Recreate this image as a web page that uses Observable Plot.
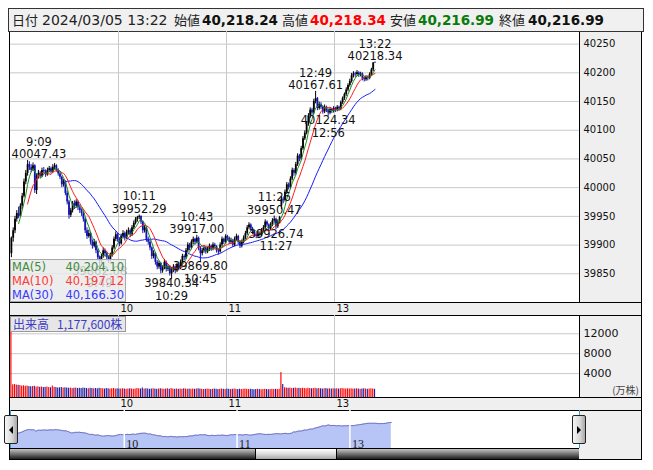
<!DOCTYPE html>
<html><head><meta charset="utf-8">
<script src="https://cdn.jsdelivr.net/npm/d3@7"></script>
<script src="https://cdn.jsdelivr.net/npm/@observablehq/plot@0.6"></script>
<style>
html,body{margin:0;padding:0;background:#fff;}
#root{position:relative;width:653px;height:470px;overflow:hidden;font-family:"DejaVu Sans",sans-serif;}
.a{position:absolute;box-sizing:border-box;}
.hj{font-family:"Noto Sans CJK JP",sans-serif;font-size:13px;color:#222;line-height:16px;top:12px;white-space:nowrap;}
.hn{font-family:"DejaVu Sans",sans-serif;font-size:14px;color:#222;line-height:16px;top:12px;white-space:nowrap;}
.hb{font-family:"DejaVu Sans",sans-serif;font-weight:bold;font-size:13.5px;color:#111;line-height:16px;top:12px;white-space:nowrap;}
.svgp{position:absolute;}
</style></head><body><div id="root"></div>
<script>
// ---------------- data ----------------
const headerDate = "2024/03/05 13:22";
const headerLabels = ["始値", "高値", "安値", "終値"];
const headerValues = ["40,218.24", "40,218.34", "40,216.99", "40,216.99"];

const opens = [39885,39912,39925,39945,39955,39950,39968,39985,40010,40025,
40040,40035,40030,40038,39995,40020,40025,40020,40030,40028,
40022,40030,40033,40027,40035,40038,40030,40024,40018,40005,
40010,39990,39975,39952,39960,39972,39968,39975,39965,39960,
39955,39945,39925,39915,39920,39905,39898,39905,39890,39878,
39872,39880,39890,39885,39878,39875,39882,39895,39910,39918,
39910,39902,39915,39920,39912,39922,39925,39918,39930,39938,
39945,39948,39950,39940,39925,39930,39910,39905,39895,39880,
39885,39870,39862,39868,39855,39860,39870,39858,39862,39850,
39858,39862,39855,39865,39860,39870,39880,39878,39890,39900,
39895,39905,39910,39905,39912,39895,39885,39890,39895,39888,
39892,39898,39893,39900,39897,39890,39888,39900,39910,39905,
39915,39912,39905,39908,39900,39910,39915,39905,39898,39905,
39912,39920,39930,39935,39928,39922,39918,39915,39920,39918,
39925,39930,39940,39935,39928,39935,39942,39945,39932,39940,
39968,39980,39978,39992,40005,40000,40015,40030,40025,40040,
40055,40050,40068,40085,40095,40110,40125,40135,40130,40150,
40155,40138,40145,40140,40132,40140,40135,40130,40136,40133,
40138,40135,40140,40137,40148,40155,40162,40170,40178,40185,
40195,40198,40197,40200,40196,40198,40190,40188,40192,40190,
40197,40205,40218.24];
const highs = [39914,39930,39950,39960,39966,39972,39990,40015,40030,40047.43,
40045,40040,40043,40040,40024,40030,40028,40034,40035,40031,
40034,40037,40036,40040,40042,40040,40033,40028,40020,40014,
40012,39994,39978,39964,39976,39977,39979,39977,39970,39963,
39958,39947,39930,39926,39922,39909,39910,39907,39893,39881,
39884,39895,39893,39888,39881,39886,39899,39914,39923,39920,
39913,39919,39925,39923,39926,39930,39928,39934,39942,39948,
39950,39952.29,39951,39942,39934,39932,39914,39908,39897,39890,
39887,39873,39872,39870,39864,39875,39872,39866,39864,39861,
39866,39864,39869,39867,39874,39884,39883,39894,39904,39903,
39909,39914,39912,39917.00,39914,39897,39894,39899,39897,39896,
39902,39900,39904,39903,39899,39893,39904,39914,39912,39918,
39917,39914,39912,39910,39914,39919,39917,39907,39909,39916,
39924,39934,39939,39937,39931,39925,39921,39924,39923,39929,
39934,39944,39942,39937,39939,39946,39950.47,39947,39944,39950,
39985,39984,39996,40009,40008,40019,40034,40033,40044,40059,
40058,40072,40089,40099,40114,40129,40139,40138,40154,40167.61,
40157,40149,40148,40142,40144,40142,40137,40139,40138,40141,
40140,40143,40142,40151,40158,40165,40174,40181,40189,40199,
40202,40201,40204,40202,40201,40200,40193,40195,40194,40200,
40208,40218,40218.34];
const lows = [39878,39905,39920,39940,39946,39948,39962,39982,40005,40020,
40030,40026,40028,39990,39988,40015,40015,40018,40024,40018,
40020,40026,40024,40025,40031,40027,40020,40014,40000,40001,
39986,39970,39945,39948,39956,39962,39965,39960,39955,39950,
39940,39920,39910,39912,39900,39893,39895,39885,39873,39862.08,
39868,39877,39880,39872,39868,39871,39879,39892,39906,39905,
39897,39900,39912,39907,39910,39918,39913,39915,39927,39935,
39940,39944,39936,39920,39921,39905,39900,39890,39875,39876,
39865,39857,39858,39850,39851,39857,39853,39854,39846,39840.34,
39852,39850,39852,39855,39857,39867,39873,39875,39887,39890,
39892,39901,39900,39902,39890,39869.80,39881,39886,39884,39885,
39889,39889,39890,39893,39886,39883,39886,39897,39901,39902,
39908,39901,39902,39896,39897,39907,39901,39894,39895,39902,
39909,39917,39927,39924,39918,39914,39911,39912,39914,39915,
39922,39927,39931,39924,39925,39932,39938,39926.74,39929,39937,
39962,39972,39975,39989,39996,39997,40012,40020,40022,40037,
40045,40047,40065,40082,40092,40107,40121,40126,40127,40146,
40134,40135,40136,40128,40129,40131,40124.34,40127,40129,40130,
40131,40132,40133,40134,40145,40152,40159,40167,40175,40182,
40191,40192,40194,40192,40193,40186,40184,40185,40186,40188,
40194,40202,40216.99];
const closes = [39912,39925,39945,39955,39950,39968,39985,40010,40025,40040,
40035,40030,40038,39995,40020,40025,40020,40030,40028,40022,
40030,40033,40027,40035,40038,40030,40024,40018,40005,40010,
39990,39975,39952,39960,39972,39968,39975,39965,39960,39955,
39945,39925,39915,39920,39905,39898,39905,39890,39878,39872,
39880,39890,39885,39878,39875,39882,39895,39910,39918,39910,
39902,39915,39920,39912,39922,39925,39918,39930,39938,39945,
39948,39950,39940,39925,39930,39910,39905,39895,39880,39885,
39870,39862,39868,39855,39860,39870,39858,39862,39850,39858,
39862,39855,39865,39860,39870,39880,39878,39890,39900,39895,
39905,39910,39905,39912,39895,39885,39890,39895,39888,39892,
39898,39893,39900,39897,39890,39888,39900,39910,39905,39915,
39912,39905,39908,39900,39910,39915,39905,39898,39905,39912,
39920,39930,39935,39928,39922,39918,39915,39920,39918,39925,
39930,39940,39935,39928,39935,39942,39945,39932,39940,39948,
39980,39978,39992,40005,40000,40015,40030,40025,40040,40055,
40050,40068,40085,40095,40110,40125,40135,40130,40150,40155,
40138,40145,40140,40132,40140,40135,40130,40136,40133,40138,
40135,40140,40137,40148,40155,40162,40170,40178,40185,40195,
40198,40197,40200,40196,40198,40190,40188,40192,40190,40197,
40205,40217,40216.99];
// volume in 万株
const volumes = [12400,
1750,1800,1700,1650,1600,1500,1550,1450,1500,1400,
1350,1400,1450,1300,1350,1250,1300,1200,1250,1300,
1200,1150,1500,1250,1200,1100,1150,1200,1100,1150,
1100,1050,1100,1000,1050,1100,1000,1050,1000,1100,
1050,1000,950,1050,1000,950,1000,950,1050,1000,
950,900,1000,950,900,950,1000,900,950,900,
900,950,900,850,900,950,900,850,900,1000,
950,900,1100,900,950,900,850,900,950,900,
850,900,950,900,850,900,950,850,1000,900,
850,900,850,900,850,950,900,850,900,850,
900,850,900,950,900,850,800,850,900,850,
800,850,900,850,800,850,900,850,800,900,
850,800,850,900,850,800,850,800,850,900,
850,800,850,800,750,800,850,800,750,800,
850,800,750,800,850,800,850,800,850,
4200,1800,
1150,1100,1050,1100,1000,1050,1100,1000,1050,
1000,1050,1000,950,1050,1000,950,1000,1050,950,
1000,950,900,950,1000,900,950,900,950,900,
950,900,950,1000,950,900,950,900,950,900,
900,950,900,850,900,950,900,850,900,950,900,850];

const hourIndex = [60, 120, 180];          // minute index of 10:00, 11:00, 13:00
const hourLabels = ["10", "11", "13"];
const priceTicks = [39850, 39900, 39950, 40000, 40050, 40100, 40150, 40200, 40250];
const volumeTicks = [4000, 8000, 12000];

const noteIndex = [9, 71, 103, 146, 169, 202, 49, 89, 105, 147, 176];
const noteTime = ["9:09","10:11","10:43","11:26","12:49","13:22","9:49","10:29","10:45","11:27","12:56"];
const noteValue = [40047.43,39952.29,39917.00,39950.47,40167.61,40218.34,39862.08,39840.34,39869.80,39926.74,40124.34];
const noteKind = ["high","high","high","high","high","high","low","low","low","low","low"];

const maPeriods = [5, 10, 30];
const maNames = ["MA(5)", "MA(10)", "MA(30)"];
const maLegendValues = ["40,204.10", "40,197.12", "40,166.30"];
const maColors = ["#1f8a1f", "#ff1a1a", "#1a1aff"];
const maTextColors = ["#3c8c3c", "#ff3838", "#3838ff"];

const volumeTitle = "出来高";
const volumeTotal = "1,177,600株";
const volumeUnit = "(万株)";

// ---------------- helpers ----------------
const root = document.getElementById("root");
function div(cls, css, html) {
  const d = document.createElement("div");
  d.className = cls; d.style.cssText = css;
  if (html != null) d.innerHTML = html;
  root.appendChild(d); return d;
}
const UP = "#000000", DOWN = "#1414b4";
const candles = closes.map((c, i) => ({i, o: opens[i], h: highs[i], l: lows[i], c, v: volumes[i], up: c >= opens[i]}));
function sma(n) {
  const out = [];
  for (let i = n - 1; i < closes.length; i++) out.push({i, v: d3.mean(closes.slice(i - n + 1, i + 1))});
  return out;
}
const mas = maPeriods.map(sma);

// ---------------- frame & backgrounds ----------------
div("a", "left:9px;top:31px;width:633px;height:429px;border:1px solid #000;background:#efefef;");
div("a", "left:10px;top:32px;width:569px;height:270px;background:#fff;");
div("a", "left:579px;top:31px;width:1px;height:271px;background:#000;");
div("a", "left:10px;top:302px;width:631px;height:1px;background:#000;");
div("a", "left:10px;top:315px;width:631px;height:1px;background:#000;");
div("a", "left:10px;top:316px;width:569px;height:81px;background:#fff;");
div("a", "left:579px;top:315px;width:1px;height:82px;background:#000;");
div("a", "left:10px;top:397px;width:631px;height:1px;background:#000;");
div("a", "left:10px;top:410px;width:631px;height:1px;background:#000;");
div("a", "left:10px;top:411px;width:569px;height:37px;background:#fff;");

// header
div("a", "left:8px;top:8px;width:636px;height:24px;border:1px solid #333;background:#f0f0f0;");
div("a hj", "left:12px;", "日付");
div("a hn", "left:42px;", headerDate);
const hx = [[174, 202], [282, 310], [390, 418], [499, 528]];
const hcol = ["#111", "#ff0000", "#0a7a0a", "#111"];
headerLabels.forEach((lab, k) => {
  div("a hj", `left:${hx[k][0]}px;`, lab);
  div("a hb", `left:${hx[k][1]}px;color:${hcol[k]};`, headerValues[k]);
});

// ---------------- main price plot ----------------
const XDOM = [0, 316.1];
const notes = noteIndex.map((idx, k) => ({
  x: idx + 0.5, y: noteValue[k], kind: noteKind[k],
  label: noteKind[k] === "high" ? noteTime[k] + "\n" + noteValue[k].toFixed(2) : noteValue[k].toFixed(2) + "\n" + noteTime[k]
}));
const pxPerUnit = 569 / (XDOM[1] - XDOM[0]);
const half = 28;
const inside = notes.filter(n => n.x * pxPerUnit >= half);
const edge = notes.filter(n => n.x * pxPerUnit < half);
const edgeDx = edge.length ? half - edge[0].x * pxPerUnit + 0.5 : 0;
const noteStyle = {fontSize: 11.5, fill: "#111", lineHeight: 1.1, fontFamily: "DejaVu Sans"};
function noteMarks(arr, dx) {
  return [
    Plot.text(arr.filter(n => n.kind === "high"), {x: "x", y: "y", text: "label", lineAnchor: "bottom", dy: -2, dx, ...noteStyle}),
    Plot.text(arr.filter(n => n.kind === "low"), {x: "x", y: "y", text: "label", lineAnchor: "top", dy: -1, dx, ...noteStyle})
  ];
}

const mainPlot = Plot.plot({
  width: 632, height: 284,
  marginLeft: 1, marginRight: 62, marginTop: 0, marginBottom: 13,
  style: {background: "transparent", fontFamily: "DejaVu Sans", overflow: "visible"},
  x: {domain: XDOM, axis: null, label: null},
  y: {domain: [39800, 40272], axis: null, label: null},
  marks: [
    Plot.gridY(priceTicks, {stroke: "#c8c8c8", strokeOpacity: 1}),
    Plot.ruleX(hourIndex, {stroke: "#c8c8c8", strokeOpacity: 1}),
    Plot.ruleX(candles.filter(d => d.up), {x: d => d.i + 0.5, y1: "l", y2: "h", stroke: UP, strokeWidth: 1, clip: true}),
    Plot.ruleX(candles.filter(d => !d.up), {x: d => d.i + 0.5, y1: "l", y2: "h", stroke: DOWN, strokeWidth: 1, clip: true}),
    Plot.ruleX(candles.filter(d => d.up), {x: d => d.i + 0.5, y1: "o", y2: "c", stroke: UP, strokeWidth: 1.8, strokeLinecap: "butt", clip: true}),
    Plot.ruleX(candles.filter(d => !d.up), {x: d => d.i + 0.5, y1: "o", y2: "c", stroke: DOWN, strokeWidth: 1.8, strokeLinecap: "butt", clip: true}),
    Plot.line(mas[2], {x: d => d.i + 0.5, y: "v", stroke: maColors[2], strokeWidth: 1, clip: true}),
    Plot.line(mas[1], {x: d => d.i + 0.5, y: "v", stroke: maColors[1], strokeWidth: 1, clip: true}),
    Plot.line(mas[0], {x: d => d.i + 0.5, y: "v", stroke: maColors[0], strokeWidth: 1, clip: true}),
    ...noteMarks(inside, 0),
    ...noteMarks(edge, edgeDx),
    Plot.axisY(priceTicks, {anchor: "right", label: null, tickSize: 0, tickPadding: 4, tickFormat: d3.format("d"), fontSize: 10, fill: "#111"}),
    Plot.axisX(hourIndex, {anchor: "bottom", label: null, tickSize: 0, tickPadding: 2, tickFormat: d => hourLabels[hourIndex.indexOf(d)], textAnchor: "start", dx: 2, fontSize: 10, fill: "#111"})
  ]
});
mainPlot.classList.add("svgp");
mainPlot.style.left = "9px"; mainPlot.style.top = "31px";
root.appendChild(mainPlot);

// MA legend box
div("a", "left:10px;top:259px;width:116px;height:43px;background:rgba(233,233,233,0.82);border:1px solid #a8a8a8;");
maNames.forEach((nm, k) => {
  div("a", `left:12px;top:${260 + k * 14}px;font-size:11.5px;line-height:14px;color:${maTextColors[k]};`, nm);
  div("a", `left:60px;width:64px;text-align:right;top:${260 + k * 14}px;font-size:11.5px;line-height:14px;color:${maTextColors[k]};`, maLegendValues[k]);
});

// ---------------- volume plot ----------------
const VMIN = -800;
const volPlot = Plot.plot({
  width: 632, height: 95,
  marginLeft: 1, marginRight: 62, marginTop: 0, marginBottom: 13,
  style: {background: "transparent", fontFamily: "DejaVu Sans", overflow: "visible"},
  x: {domain: XDOM, axis: null, label: null},
  y: {domain: [VMIN, 15680], axis: null, label: null},
  marks: [
    Plot.gridY(volumeTicks, {stroke: "#c8c8c8", strokeOpacity: 1}),
    Plot.ruleX(hourIndex, {stroke: "#c8c8c8", strokeOpacity: 1}),
    Plot.rect(candles.filter(d => d.up), {x1: d => d.i + 0.18, x2: d => d.i + 0.82, y1: VMIN, y2: "v", fill: "#ff0000", clip: true}),
    Plot.rect(candles.filter(d => !d.up), {x1: d => d.i + 0.18, x2: d => d.i + 0.82, y1: VMIN, y2: "v", fill: "#1c1ca0", clip: true}),
    Plot.axisY(volumeTicks, {anchor: "right", label: null, tickSize: 0, tickPadding: 4, tickFormat: d3.format("d"), fontSize: 11, fill: "#111"}),
    Plot.axisX(hourIndex, {anchor: "bottom", label: null, tickSize: 0, tickPadding: 2, tickFormat: d => hourLabels[hourIndex.indexOf(d)], textAnchor: "start", dx: 2, fontSize: 10, fill: "#111"})
  ]
});
volPlot.classList.add("svgp");
volPlot.style.left = "9px"; volPlot.style.top = "315px";
root.appendChild(volPlot);

div("a", "left:10px;top:316px;width:116px;height:16px;background:#e6e6e6;border:1px solid #9a9a9a;font-family:'Noto Sans CJK JP',sans-serif;font-size:12px;line-height:14px;color:#3c3cc8;padding-left:2px;white-space:nowrap;",
  volumeTitle + "&nbsp;&nbsp;&nbsp;" + volumeTotal);
div("a", "left:600px;top:384px;width:39px;text-align:right;font-family:'Noto Sans CJK JP',sans-serif;font-size:10px;line-height:12px;color:#444;", volumeUnit);

// ---------------- navigator ----------------
const NAVX = [-0.5, 302.1];
const NAVY = [39563, 40520];
const navPlot = Plot.plot({
  width: 632, height: 38,
  marginLeft: 1, marginRight: 62, marginTop: 0, marginBottom: 0,
  style: {background: "transparent", overflow: "visible"},
  x: {domain: NAVX, axis: null, label: null},
  y: {domain: NAVY, axis: null, label: null},
  marks: [
    Plot.area(candles, {x1: "i", y1: NAVY[0], y2: "c", fill: "#b6c4f6", clip: true}),
    Plot.line(candles, {x: "i", y: "c", stroke: "#7272c0", strokeWidth: 1, clip: true}),
    Plot.ruleX(hourIndex, {stroke: "#ffffff", strokeWidth: 1.5}),
    Plot.text(hourIndex, {x: d => d, text: d => hourLabels[hourIndex.indexOf(d)], frameAnchor: "bottom", lineAnchor: "bottom", textAnchor: "start", dx: 2, dy: -1, fontFamily: "Liberation Serif", fontSize: 12, fill: "#222"}),
    Plot.ruleX(NAVX, {stroke: "#26a6de", strokeWidth: 1})
  ]
});
navPlot.classList.add("svgp");
navPlot.style.left = "9px"; navPlot.style.top = "410px";
root.appendChild(navPlot);

// scrollbar + buttons
div("a", "left:10px;top:448px;width:569px;height:11px;border-top:1px solid #000;background:linear-gradient(to bottom,#c4c4c4,#7a7a7a 45%,#1e1e1e);");
div("a", "left:255px;top:448px;width:82px;height:11px;border:1px solid #000;border-bottom:none;background:linear-gradient(to bottom,#ffffff,#dcdcdc 50%,#a6a6a6);");
function button(left, dir) {
  const b = div("a", `left:${left}px;top:415px;width:14px;height:29px;border:1px solid #222;border-radius:2px;background:linear-gradient(to right,#f6f6f6,#d6d6d6 60%,#a8a8a8);`);
  const t = document.createElement("div");
  t.style.cssText = "position:absolute;top:10px;left:4px;width:0;height:0;border-top:4px solid transparent;border-bottom:4px solid transparent;" +
    (dir === "left" ? "border-right:4px solid #000;" : "border-left:4px solid #000;");
  b.appendChild(t);
}
button(4, "left");
button(572, "right");
</script>
</body></html>
